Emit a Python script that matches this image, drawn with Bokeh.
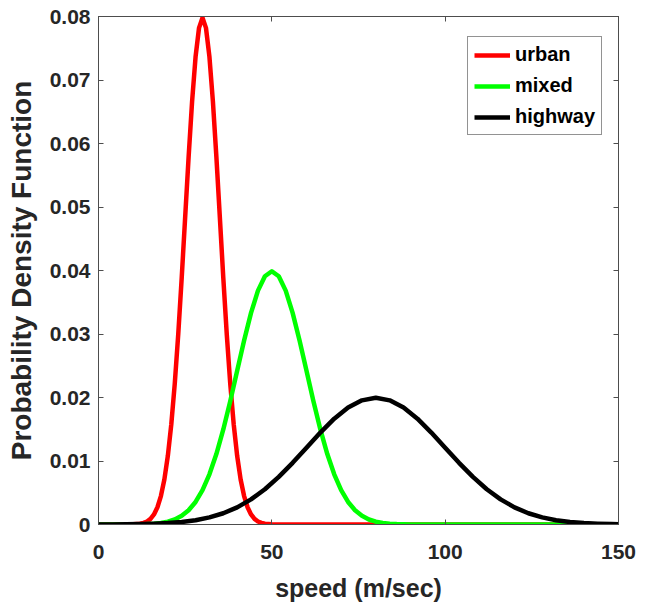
from bokeh.plotting import figure
from bokeh.models import Range1d, FixedTicker, LinearAxis
from bokeh.embed import file_html
from bokeh.resources import INLINE

# ---- data ----
urban_x = [0, 5, 10] + list(range(12, 49)) + [50, 55, 150]
urban_y = [0, 0, 0.00003,
           0.00012, 0.00025, 0.00048, 0.00089, 0.00158, 0.00272, 0.00448, 0.00709,
           0.01080, 0.01579, 0.02218, 0.02995, 0.03884, 0.04839, 0.05794, 0.06664,
           0.07365, 0.07821, 0.07979,
           0.07821, 0.07365, 0.06664, 0.05794, 0.04839, 0.03884, 0.02995, 0.02218,
           0.01579, 0.01080, 0.00709, 0.00448, 0.00272, 0.00158, 0.00089, 0.00048,
           0.00025, 0.00012,
           0.00003, 0, 0]

mixed_x = [0, 10] + list(range(14, 87, 2)) + [90, 100, 150]
mixed_y = [0, 0.00001,
           0.00006, 0.00012, 0.00024, 0.00044, 0.00079, 0.00136, 0.00224, 0.00355,
           0.00540, 0.00790, 0.01109, 0.01497, 0.01942, 0.02420, 0.02897, 0.03332,
           0.03683, 0.03910, 0.03989,
           0.03910, 0.03683, 0.03332, 0.02897, 0.02420, 0.01942, 0.01497, 0.01109,
           0.00790, 0.00540, 0.00355, 0.00224, 0.00136, 0.00079, 0.00044, 0.00024,
           0.00012, 0.00006,
           0.00001, 0, 0]

highway_x = list(range(0, 149, 4)) + [150]
highway_y = [0.00001, 0.00001, 0.00003, 0.00006, 0.00012, 0.00022, 0.00040, 0.00068,
             0.00112, 0.00177, 0.00270, 0.00395, 0.00555, 0.00749, 0.00971, 0.01210,
             0.01448, 0.01666, 0.01841, 0.01955, 0.01995,
             0.01955, 0.01841, 0.01666, 0.01448, 0.01210, 0.00971, 0.00749, 0.00555,
             0.00395, 0.00270, 0.00177, 0.00112, 0.00068, 0.00040, 0.00022, 0.00012,
             0.00006, 0.00004]

series_names = ["urban", "mixed", "highway"]
x_ticks = [0, 50, 100, 150]
x_tick_labels = ["0", "50", "100", "150"]
y_ticks = [0, 0.01, 0.02, 0.03, 0.04, 0.05, 0.06, 0.07, 0.08]
y_tick_labels = ["0", "0.01", "0.02", "0.03", "0.04", "0.05", "0.06", "0.07", "0.08"]
x_title = "speed (m/sec)"
y_title = "Probability Density Function"

FONT = "Liberation Sans"
TXT = "#262626"

p = figure(width=654, height=610, output_backend="svg", toolbar_location=None,
           x_range=Range1d(0, 150), y_range=Range1d(0, 0.08),
           frame_width=520, frame_height=508,
           min_border_left=98, min_border_right=36, min_border_top=16, min_border_bottom=86,
           background_fill_color="white", border_fill_color="white")
p.grid.visible = False
p.outline_line_color = "#4d4d4d"
p.outline_line_width = 1

colors = ["#ff0000", "#00ff00", "#000000"]
for xs, ys, c, name in [(urban_x, urban_y, colors[0], series_names[0]),
                        (mixed_x, mixed_y, colors[1], series_names[1]),
                        (highway_x, highway_y, colors[2], series_names[2])]:
    p.line(xs, ys, line_color=c, line_width=4.5, line_join="round", legend_label=name)

def style_axis(ax, labels=True):
    ax.axis_line_color = "#4d4d4d"
    ax.major_tick_line_color = "#4d4d4d"
    ax.major_tick_in = 5
    ax.major_tick_out = 0
    ax.minor_tick_line_color = None
    ax.major_label_text_font = FONT
    ax.major_label_text_font_style = "bold"
    ax.major_label_text_color = TXT if labels else None
    ax.axis_label_text_font = FONT
    ax.axis_label_text_font_style = "bold"
    ax.axis_label_text_color = TXT

xa = p.xaxis[0]
style_axis(xa)
xa.ticker = FixedTicker(ticks=x_ticks)
xa.major_label_overrides = dict(zip(x_ticks, x_tick_labels))
xa.major_label_text_font_size = "21px"
xa.major_label_standoff = 20
xa.axis_label = x_title
xa.axis_label_text_font_size = "25px"
xa.axis_label_standoff = 12

ya = p.yaxis[0]
style_axis(ya)
ya.ticker = FixedTicker(ticks=y_ticks)
ya.major_label_overrides = dict(zip(y_ticks, y_tick_labels))
ya.major_label_text_font_size = "21px"
ya.major_label_standoff = 8
ya.axis_label = y_title
ya.axis_label_text_font_size = "28px"
ya.axis_label_standoff = 10

ra = LinearAxis(ticker=FixedTicker(ticks=y_ticks))
style_axis(ra, labels=False)
p.add_layout(ra, "right")
ta = LinearAxis(ticker=FixedTicker(ticks=x_ticks))
style_axis(ta, labels=False)
p.add_layout(ta, "above")

lg = p.legend[0]
lg.location = (369, 389)
lg.border_line_color = "#262626"
lg.border_line_width = 1
lg.background_fill_color = "white"
lg.background_fill_alpha = 1
lg.label_text_font = FONT
lg.label_text_font_style = "bold"
lg.label_text_font_size = "20px"
lg.label_text_color = "#000000"
lg.glyph_width = 36
lg.glyph_height = 20
lg.label_height = 20
lg.label_standoff = 5
lg.spacing = 8
lg.padding = 6
lg.margin = 0

open("out.html", "w").write(file_html(p, INLINE))
